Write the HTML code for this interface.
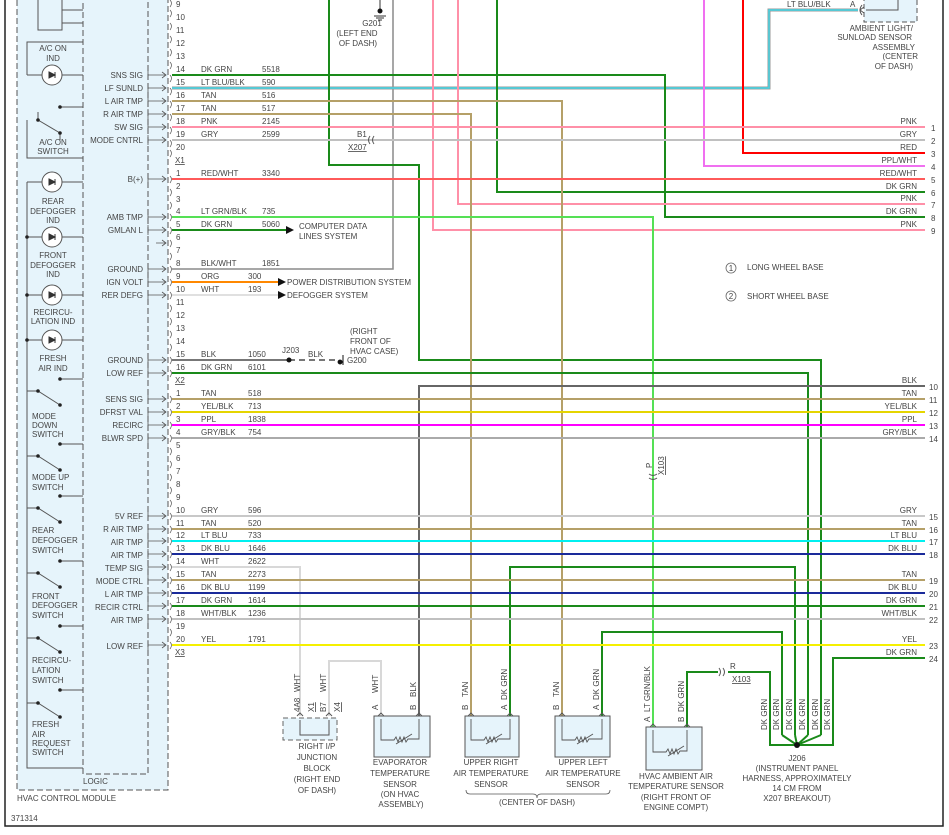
<!DOCTYPE html>
<html><head><meta charset="utf-8"><style>
html,body{margin:0;padding:0;background:#fff;}
svg{display:block;font-family:"Liberation Sans",sans-serif;}
text{font-size:8px;fill:#444;}
.r{text-anchor:end}.m{text-anchor:middle}
</style></head><body>
<svg width="949" height="835" viewBox="0 0 949 835" xmlns="http://www.w3.org/2000/svg">
<rect x="0" y="0" width="949" height="835" fill="#fff"/>
<path d="M5,0 V826 H943 V0" fill="none" stroke="#222" stroke-width="1.5"/>

<rect x="17" y="-5" width="151" height="795" fill="#e6f4fb" stroke="#555" stroke-dasharray="6,3"/>
<rect x="83" y="-5" width="65" height="779" fill="#e6f4fb" stroke="#555" stroke-dasharray="6,3"/>
<text x="83" y="784">LOGIC</text>
<text x="17" y="801">HVAC CONTROL MODULE</text>
<text x="11" y="821">371314</text>

<g stroke="#555" fill="none">
<rect x="38" y="-2" width="24" height="32" fill="#e6f4fb"/>
<path d="M62,10 H83 M62,23 H83"/>
<path d="M27,75 V42 H83 M27,75 H83"/>
<path d="M60,107 H83"/>
<path d="M27,120 V158 H83 M38,120 L60,133 M60,133 V140"/>
<path d="M27,182 V768 H83 M27,182 H83 M27,237 H83 M27,295 H83 M27,340 H83"/>
<path d="M60,379 H83 M60,444 H83 M60,496 H83 M60,561 H83 M60,626 H83 M60,690 H83"/>
<path d="M27,391 H38 L60,405 M27,456 H38 L60,470 M27,508 H38 L60,522 M27,573 H38 L60,587 M27,638 H38 L60,652 M27,703 H38 L60,717"/>
<path d="M38,120 V112"/>
</g>
<g fill="#222">
<circle cx="60" cy="107" r="1.8"/><circle cx="38" cy="120" r="1.8"/><circle cx="60" cy="133" r="1.8"/>
<circle cx="27" cy="237" r="1.8"/><circle cx="27" cy="295" r="1.8"/><circle cx="27" cy="340" r="1.8"/>
<circle cx="60" cy="379" r="1.8"/><circle cx="60" cy="444" r="1.8"/><circle cx="60" cy="496" r="1.8"/><circle cx="60" cy="561" r="1.8"/><circle cx="60" cy="626" r="1.8"/><circle cx="60" cy="690" r="1.8"/>
<circle cx="38" cy="391" r="1.8"/><circle cx="60" cy="405" r="1.8"/><circle cx="38" cy="456" r="1.8"/><circle cx="60" cy="470" r="1.8"/><circle cx="38" cy="508" r="1.8"/><circle cx="60" cy="522" r="1.8"/><circle cx="38" cy="573" r="1.8"/><circle cx="60" cy="587" r="1.8"/><circle cx="38" cy="638" r="1.8"/><circle cx="60" cy="652" r="1.8"/><circle cx="38" cy="703" r="1.8"/><circle cx="60" cy="717" r="1.8"/>
</g>
<g stroke="#555" fill="#fff">
<circle cx="52" cy="75" r="10"/><circle cx="52" cy="182" r="10"/><circle cx="52" cy="237" r="10"/><circle cx="52" cy="295" r="10"/><circle cx="52" cy="340" r="10"/>
</g>
<g fill="#333" stroke="#333">
<path d="M49,72 L55,75 L49,78Z M55,72 V78"/><path d="M49,179 L55,182 L49,185Z M55,179 V185"/><path d="M49,234 L55,237 L49,240Z M55,234 V240"/><path d="M49,292 L55,295 L49,298Z M55,292 V298"/><path d="M49,337 L55,340 L49,343Z M55,337 V343"/>
</g>
<g>
<text x="53" y="51" class="m">A/C ON</text><text x="53" y="61" class="m">IND</text>
<text x="53" y="145" class="m">A/C ON</text><text x="53" y="154" class="m">SWITCH</text>
<text x="53" y="204" class="m">REAR</text><text x="53" y="214" class="m">DEFOGGER</text><text x="53" y="223" class="m">IND</text>
<text x="53" y="258" class="m">FRONT</text><text x="53" y="268" class="m">DEFOGGER</text><text x="53" y="277" class="m">IND</text>
<text x="53" y="315" class="m">RECIRCU-</text><text x="53" y="324" class="m">LATION IND</text>
<text x="53" y="361" class="m">FRESH</text><text x="53" y="371" class="m">AIR IND</text>
</g>
<text x="32" y="419">MODE</text><text x="32" y="428">DOWN</text><text x="32" y="437">SWITCH</text>
<text x="32" y="480">MODE UP</text><text x="32" y="490">SWITCH</text>
<text x="32" y="533">REAR</text><text x="32" y="543">DEFOGGER</text><text x="32" y="553">SWITCH</text>
<text x="32" y="599">FRONT</text><text x="32" y="608">DEFOGGER</text><text x="32" y="618">SWITCH</text>
<text x="32" y="663">RECIRCU-</text><text x="32" y="673">LATION</text><text x="32" y="683">SWITCH</text>
<text x="32" y="727">FRESH</text><text x="32" y="737">AIR</text><text x="32" y="746">REQUEST</text><text x="32" y="755">SWITCH</text>

<g>
<text x="143" y="78" class="r">SNS SIG</text><text x="143" y="91" class="r">LF SUNLD</text><text x="143" y="104" class="r">L AIR TMP</text><text x="143" y="117" class="r">R AIR TMP</text><text x="143" y="130" class="r">SW SIG</text><text x="143" y="143" class="r">MODE CNTRL</text>
<text x="143" y="182" class="r">B(+)</text><text x="143" y="220" class="r">AMB TMP</text><text x="143" y="233" class="r">GMLAN L</text><text x="143" y="272" class="r">GROUND</text><text x="143" y="285" class="r">IGN VOLT</text><text x="143" y="298" class="r">RER DEFG</text><text x="143" y="363" class="r">GROUND</text><text x="143" y="376" class="r">LOW REF</text>
<text x="143" y="402" class="r">SENS SIG</text><text x="143" y="415" class="r">DFRST VAL</text><text x="143" y="428" class="r">RECIRC</text><text x="143" y="441" class="r">BLWR SPD</text>
<text x="143" y="519" class="r">5V REF</text><text x="143" y="532" class="r">R AIR TMP</text><text x="143" y="545" class="r">AIR TMP</text><text x="143" y="558" class="r">AIR TMP</text><text x="143" y="571" class="r">TEMP SIG</text><text x="143" y="584" class="r">MODE CTRL</text><text x="143" y="597" class="r">L AIR TMP</text><text x="143" y="610" class="r">RECIR CTRL</text><text x="143" y="623" class="r">AIR TMP</text><text x="143" y="649" class="r">LOW REF</text>
</g>
<g stroke="#555" fill="none" stroke-width="0.8">
<path d="M148,70V80M148,75H166M162,72L166,75L162,78"/><path d="M148,83V93M148,88H166M162,85L166,88L162,91"/><path d="M148,96V106M148,101H166M162,98L166,101L162,104"/><path d="M148,109V119M148,114H166M162,111L166,114L162,117"/><path d="M148,122V132M148,127H166M162,124L166,127L162,130"/><path d="M148,135V145M148,140H166M162,137L166,140L162,143"/>
<path d="M148,174V184M148,179H166M162,176L166,179L162,182"/><path d="M148,212V222M148,217H166M162,214L166,217L162,220"/><path d="M148,225V235M148,230H166M162,227L166,230L162,233"/><path d="M156,243H166M162,240L166,243L162,246"/><path d="M148,264V274M148,269H166M162,266L166,269L162,272"/><path d="M148,277V287M148,282H166M162,279L166,282L162,285"/><path d="M148,290V300M148,295H166M162,292L166,295L162,298"/><path d="M148,355V365M148,360H166M162,357L166,360L162,363"/><path d="M148,368V378M148,373H166M162,370L166,373L162,376"/>
<path d="M148,394V404M148,399H166M162,396L166,399L162,402"/><path d="M148,407V417M148,412H166M162,409L166,412L162,415"/><path d="M148,420V430M148,425H166M162,422L166,425L162,428"/><path d="M148,433V443M148,438H166M162,435L166,438L162,441"/>
<path d="M148,511V521M148,516H166M162,513L166,516L162,519"/><path d="M148,524V534M148,529H166M162,526L166,529L162,532"/><path d="M148,536V546M148,541H166M162,538L166,541L162,544"/><path d="M148,549V559M148,554H166M162,551L166,554L162,557"/><path d="M148,562V572M148,567H166M162,564L166,567L162,570"/><path d="M148,575V585M148,580H166M162,577L166,580L162,583"/><path d="M148,588V598M148,593H166M162,590L166,593L162,596"/><path d="M148,601V611M148,606H166M162,603L166,606L162,609"/><path d="M148,614V624M148,619H166M162,616L166,619L162,622"/><path d="M148,640V650M148,645H166M162,642L166,645L162,648"/>
</g>

<g>
<text x="176" y="7">9</text><text x="176" y="20">10</text><text x="176" y="33">11</text><text x="176" y="46">12</text><text x="176" y="59">13</text><text x="176" y="72">14</text><text x="176" y="85">15</text><text x="176" y="98">16</text><text x="176" y="111">17</text><text x="176" y="124">18</text><text x="176" y="137">19</text><text x="176" y="150">20</text>
<text x="175" y="163" text-decoration="underline">X1</text>
<text x="176" y="176">1</text><text x="176" y="189">2</text><text x="176" y="202">3</text><text x="176" y="214">4</text><text x="176" y="227">5</text><text x="176" y="240">6</text><text x="176" y="253">7</text><text x="176" y="266">8</text><text x="176" y="279">9</text><text x="176" y="292">10</text><text x="176" y="305">11</text><text x="176" y="318">12</text><text x="176" y="331">13</text><text x="176" y="344">14</text><text x="176" y="357">15</text><text x="176" y="370">16</text>
<text x="175" y="383" text-decoration="underline">X2</text>
<text x="176" y="396">1</text><text x="176" y="409">2</text><text x="176" y="422">3</text><text x="176" y="435">4</text><text x="176" y="448">5</text><text x="176" y="461">6</text><text x="176" y="474">7</text><text x="176" y="487">8</text><text x="176" y="500">9</text><text x="176" y="513">10</text><text x="176" y="526">11</text><text x="176" y="538">12</text><text x="176" y="551">13</text><text x="176" y="564">14</text><text x="176" y="577">15</text><text x="176" y="590">16</text><text x="176" y="603">17</text><text x="176" y="616">18</text><text x="176" y="629">19</text><text x="176" y="642">20</text>
<text x="175" y="655" text-decoration="underline">X3</text>
</g>
<path fill="none" stroke="#555" stroke-width="0.7" d="
M170,0q3,3 0,7M170,10q3,3 0,7M170,23q3,3 0,7M170,36q3,3 0,7M170,49q3,3 0,7M170,62q3,3 0,7M170,75q3,3 0,7M170,88q3,3 0,7M170,101q3,3 0,7M170,114q3,3 0,7M170,127q3,3 0,7M170,140q3,3 0,7M170,150q3,3 0,7
M170,176q3,3 0,7M170,189q3,3 0,7M170,202q3,3 0,7M170,214q3,3 0,7M170,227q3,3 0,7M170,240q3,3 0,7M170,253q3,3 0,7M170,266q3,3 0,7M170,279q3,3 0,7M170,292q3,3 0,7M170,305q3,3 0,7M170,318q3,3 0,7M170,331q3,3 0,7M170,344q3,3 0,7M170,357q3,3 0,7M170,370q3,3 0,7
M170,396q3,3 0,7M170,409q3,3 0,7M170,422q3,3 0,7M170,435q3,3 0,7M170,448q3,3 0,7M170,461q3,3 0,7M170,474q3,3 0,7M170,487q3,3 0,7M170,500q3,3 0,7M170,513q3,3 0,7M170,526q3,3 0,7M170,538q3,3 0,7M170,551q3,3 0,7M170,564q3,3 0,7M170,577q3,3 0,7M170,590q3,3 0,7M170,603q3,3 0,7M170,616q3,3 0,7M170,629q3,3 0,7M170,642q3,3 0,7"/>

<g fill="none" stroke-width="2">
<path d="M393,0V269H172" stroke="#8a8a8a" stroke-width="1.5"/>
<path d="M172,88H769V10H858" stroke="#999" stroke-width="3"/>
<path d="M172,88H769V10H858" stroke="#40d8e8" stroke-width="1.4"/>
<path d="M172,75H665V217H925" stroke="#1a8a1a"/>
<path d="M329,0V165H419V360H821V735" stroke="#1a8a1a"/>
<path d="M433,0V230H925" stroke="#ff90a8"/>
<path d="M458,0V204H925" stroke="#ff90a8"/>
<path d="M497,0V192H925" stroke="#1a8a1a"/>
<path d="M704,0V166H925" stroke="#f070f0"/>
<path d="M743,0V153H925" stroke="#ff0000"/>
<path d="M172,101H562V716" stroke="#b5a068"/>
<path d="M172,114H471V716" stroke="#b5a068"/>
<path d="M172,127H925" stroke="#ff90a8"/>
<path d="M172,140H925" stroke="#c0c0c0"/>
<path d="M172,179H925" stroke="#ff5a5a"/>
<path d="M172,217H653V727" stroke="#55e055"/>
<path d="M172,230H286" stroke="#1a8a1a"/>
<path d="M172,282H280" stroke="#ff8800"/>
<path d="M172,295H280" stroke="#e0e0e0"/>
<path d="M172,360H289" stroke="#777"/>
<path d="M289,360H338" stroke="#777" stroke-dasharray="6,4"/>
<path d="M172,373H808V735" stroke="#1a8a1a"/>
<path d="M419,716V386H925" stroke="#666"/>
<path d="M172,399H925" stroke="#b5a068"/>
<path d="M172,412H925" stroke="#e5d500"/>
<path d="M172,425H925" stroke="#ff00ff"/>
<path d="M172,438H925" stroke="#aaa"/>
<path d="M172,516H925" stroke="#c8c8c8"/>
<path d="M172,529H925" stroke="#b5a068"/>
<path d="M172,541H925" stroke="#00f0f0"/>
<path d="M172,554H925" stroke="#1a2a9a"/>
<path d="M172,567H300V716" stroke="#d8d8d8"/>
<path d="M510,716V567H795V735" stroke="#1a8a1a"/>
<path d="M172,580H925" stroke="#b5a068"/>
<path d="M172,593H925" stroke="#1a2a9a"/>
<path d="M172,606H925" stroke="#1a8a1a"/>
<path d="M172,619H925" stroke="#c0c0c0"/>
<path d="M602,716V632H782V735" stroke="#1a8a1a"/>
<path d="M172,645H925" stroke="#f5f000"/>
<path d="M925,658H833V745H797" stroke="#1a8a1a"/>
<path d="M687,727V672H718M728,672H770V745H797" stroke="#1a8a1a"/>
<path d="M782,735L797,745M795,735L797,745M808,735L797,745M821,735L797,745" stroke="#1a8a1a"/>
<path d="M329,716V661H381V716" stroke="#d8d8d8"/>
</g>
<circle cx="797" cy="745" r="3" fill="#111"/>
<circle cx="289" cy="360" r="2.5" fill="#111"/>
<g fill="#111"><path d="M286,226L294,230L286,234Z"/><path d="M278,278L286,282L278,286Z"/><path d="M278,291L286,295L278,299Z"/></g>
<path d="M340,360a2,2 0 1,0 0.1,0M343,355V365" stroke="#111" fill="#111"/>
<text x="347" y="363">G200</text>
<text x="350" y="334">(RIGHT</text><text x="350" y="344">FRONT OF</text><text x="350" y="354">HVAC CASE)</text>
<text x="282" y="353">J203</text><text x="308" y="357">BLK</text>
<path d="M380,0V10M374,16H386M376,18H384M378,20H382" stroke="#333" fill="none"/><circle cx="380" cy="11" r="2.5" fill="#111"/>
<text x="372" y="26" class="m">G201</text><text x="357" y="36" class="m">(LEFT END</text><text x="358" y="46" class="m">OF DASH)</text>
<text x="357" y="137">B1</text><path d="M370,136q-3,4 0,8M374,136q-3,4 0,8" stroke="#555" fill="none"/>
<text x="348" y="150" text-decoration="underline">X207</text>
<text x="299" y="229">COMPUTER DATA</text><text x="299" y="239">LINES SYSTEM</text>
<text x="287" y="285">POWER DISTRIBUTION SYSTEM</text>
<text x="287" y="298">DEFOGGER SYSTEM</text>

<g>
<text x="201" y="72">DK GRN</text><text x="262" y="72">5518</text>
<text x="201" y="85">LT BLU/BLK</text><text x="262" y="85">590</text>
<text x="201" y="98">TAN</text><text x="262" y="98">516</text>
<text x="201" y="111">TAN</text><text x="262" y="111">517</text>
<text x="201" y="124">PNK</text><text x="262" y="124">2145</text>
<text x="201" y="137">GRY</text><text x="262" y="137">2599</text>
<text x="201" y="176">RED/WHT</text><text x="262" y="176">3340</text>
<text x="201" y="214">LT GRN/BLK</text><text x="262" y="214">735</text>
<text x="201" y="227">DK GRN</text><text x="262" y="227">5060</text>
<text x="201" y="266">BLK/WHT</text><text x="262" y="266">1851</text>
<text x="201" y="279">ORG</text><text x="248" y="279">300</text>
<text x="201" y="292">WHT</text><text x="248" y="292">193</text>
<text x="201" y="357">BLK</text><text x="248" y="357">1050</text>
<text x="201" y="370">DK GRN</text><text x="248" y="370">6101</text>
<text x="201" y="396">TAN</text><text x="248" y="396">518</text>
<text x="201" y="409">YEL/BLK</text><text x="248" y="409">713</text>
<text x="201" y="422">PPL</text><text x="248" y="422">1838</text>
<text x="201" y="435">GRY/BLK</text><text x="248" y="435">754</text>
<text x="201" y="513">GRY</text><text x="248" y="513">596</text>
<text x="201" y="526">TAN</text><text x="248" y="526">520</text>
<text x="201" y="538">LT BLU</text><text x="248" y="538">733</text>
<text x="201" y="551">DK BLU</text><text x="248" y="551">1646</text>
<text x="201" y="564">WHT</text><text x="248" y="564">2622</text>
<text x="201" y="577">TAN</text><text x="248" y="577">2273</text>
<text x="201" y="590">DK BLU</text><text x="248" y="590">1199</text>
<text x="201" y="603">DK GRN</text><text x="248" y="603">1614</text>
<text x="201" y="616">WHT/BLK</text><text x="248" y="616">1236</text>
<text x="201" y="642">YEL</text><text x="248" y="642">1791</text>
</g>
<g>
<text x="917" y="124" class="r">PNK</text><text x="931" y="131">1</text>
<text x="917" y="137" class="r">GRY</text><text x="931" y="144">2</text>
<text x="917" y="150" class="r">RED</text><text x="931" y="157">3</text>
<text x="917" y="163" class="r">PPL/WHT</text><text x="931" y="170">4</text>
<text x="917" y="176" class="r">RED/WHT</text><text x="931" y="183">5</text>
<text x="917" y="189" class="r">DK GRN</text><text x="931" y="196">6</text>
<text x="917" y="201" class="r">PNK</text><text x="931" y="208">7</text>
<text x="917" y="214" class="r">DK GRN</text><text x="931" y="221">8</text>
<text x="917" y="227" class="r">PNK</text><text x="931" y="234">9</text>
<text x="917" y="383" class="r">BLK</text><text x="929" y="390">10</text>
<text x="917" y="396" class="r">TAN</text><text x="929" y="403">11</text>
<text x="917" y="409" class="r">YEL/BLK</text><text x="929" y="416">12</text>
<text x="917" y="422" class="r">PPL</text><text x="929" y="429">13</text>
<text x="917" y="435" class="r">GRY/BLK</text><text x="929" y="442">14</text>
<text x="917" y="513" class="r">GRY</text><text x="929" y="520">15</text>
<text x="917" y="526" class="r">TAN</text><text x="929" y="533">16</text>
<text x="917" y="538" class="r">LT BLU</text><text x="929" y="545">17</text>
<text x="917" y="551" class="r">DK BLU</text><text x="929" y="558">18</text>
<text x="917" y="577" class="r">TAN</text><text x="929" y="584">19</text>
<text x="917" y="590" class="r">DK BLU</text><text x="929" y="597">20</text>
<text x="917" y="603" class="r">DK GRN</text><text x="929" y="610">21</text>
<text x="917" y="616" class="r">WHT/BLK</text><text x="929" y="623">22</text>
<text x="917" y="642" class="r">YEL</text><text x="929" y="649">23</text>
<text x="917" y="655" class="r">DK GRN</text><text x="929" y="662">24</text>
</g>

<rect x="864" y="-3" width="53" height="25" fill="#e6f4fb" stroke="#555" stroke-dasharray="5,3"/>
<path d="M866,10H898V0" stroke="#555" fill="none"/>
<path d="M862,5q-4,5 0,10M864,7L860,10L864,13" stroke="#555" fill="none"/>
<text x="787" y="7">LT BLU/BLK</text><text x="850" y="7">A</text>
<text x="913" y="31" class="r">AMBIENT LIGHT/</text><text x="912" y="40" class="r">SUNLOAD SENSOR</text><text x="915" y="50" class="r">ASSEMBLY</text><text x="918" y="59" class="r">(CENTER</text><text x="913" y="69" class="r">OF DASH)</text>

<circle cx="731" cy="268" r="5" fill="none" stroke="#666" stroke-width="0.8"/><text x="731" y="271" class="m" font-size="7">1</text>
<text x="747" y="270">LONG WHEEL BASE</text>
<circle cx="731" cy="296" r="5" fill="none" stroke="#666" stroke-width="0.8"/><text x="731" y="299" class="m" font-size="7">2</text>
<text x="747" y="299">SHORT WHEEL BASE</text>

<path d="M649,474q4,3 8,0M649,478q4,3 8,0" stroke="#555" fill="none"/>
<text x="652" y="468" transform="rotate(-90 652 468)">P</text>
<text x="664" y="475" transform="rotate(-90 664 475)" text-decoration="underline">X103</text>
<path d="M719,668q3,4 0,8M723,668q3,4 0,8" stroke="#555" fill="none"/>
<text x="730" y="669">R</text><text x="732" y="682" text-decoration="underline">X103</text>

<rect x="283" y="718" width="54" height="22" fill="#e6f4fb" stroke="#666" stroke-dasharray="5,3"/>
<path d="M300,720V735H329V720" stroke="#555" fill="none"/>
<g stroke="#555" fill="none"><path d="M297,716l3,-3l3,3M326,716l3,-3l3,3"/></g>
<text x="300" y="692" transform="rotate(-90 300 692)">WHT</text>
<text x="300" y="712" transform="rotate(-90 300 712)">4A8</text>
<text x="314" y="712" transform="rotate(-90 314 712)" text-decoration="underline">X1</text>
<text x="326" y="692" transform="rotate(-90 326 692)">WHT</text>
<text x="326" y="712" transform="rotate(-90 326 712)">B7</text>
<text x="340" y="712" transform="rotate(-90 340 712)" text-decoration="underline">X4</text>
<text x="317" y="749" class="m">RIGHT I/P</text><text x="317" y="760" class="m">JUNCTION</text><text x="317" y="771" class="m">BLOCK</text><text x="317" y="782" class="m">(RIGHT END</text><text x="317" y="793" class="m">OF DASH)</text>

<g stroke="#555" fill="#e6f4fb">
<rect x="374" y="716" width="56" height="41"/>
<rect x="465" y="716" width="54" height="41"/>
<rect x="555" y="716" width="55" height="41"/>
<rect x="646" y="727" width="56" height="43"/>
</g>
<g stroke="#555" fill="none" stroke-width="0.9">
<path d="M381,719V740H394l2,-3l2,5l2,-5l2,5l2,-5l2,5l2,-3H419V719M396,744l16,-10"/>
<path d="M471,719V740H484l2,-3l2,5l2,-5l2,5l2,-5l2,5l2,-3H510V719M486,744l16,-10"/>
<path d="M562,719V740H575l2,-3l2,5l2,-5l2,5l2,-5l2,5l2,-3H602V719M577,744l16,-10"/>
<path d="M653,730V752H666l2,-3l2,5l2,-5l2,5l2,-5l2,5l2,-3H687V730M668,756l16,-10"/>
<path d="M378,716l3,-3l3,3M416,716l3,-3l3,3M468,716l3,-3l3,3M507,716l3,-3l3,3M559,716l3,-3l3,3M599,716l3,-3l3,3M650,727l3,-3l3,3M684,727l3,-3l3,3"/>
</g>
<g>
<text x="378" y="710" transform="rotate(-90 378 710)">A</text><text x="378" y="693" transform="rotate(-90 378 693)">WHT</text>
<text x="416" y="710" transform="rotate(-90 416 710)">B</text><text x="416" y="697" transform="rotate(-90 416 697)">BLK</text>
<text x="468" y="710" transform="rotate(-90 468 710)">B</text><text x="468" y="697" transform="rotate(-90 468 697)">TAN</text>
<text x="507" y="710" transform="rotate(-90 507 710)">A</text><text x="507" y="700" transform="rotate(-90 507 700)">DK GRN</text>
<text x="559" y="710" transform="rotate(-90 559 710)">B</text><text x="559" y="697" transform="rotate(-90 559 697)">TAN</text>
<text x="599" y="710" transform="rotate(-90 599 710)">A</text><text x="599" y="700" transform="rotate(-90 599 700)">DK GRN</text>
<text x="650" y="722" transform="rotate(-90 650 722)">A</text><text x="650" y="712" transform="rotate(-90 650 712)">LT GRN/BLK</text>
<text x="684" y="722" transform="rotate(-90 684 722)">B</text><text x="684" y="712" transform="rotate(-90 684 712)">DK GRN</text>
<text x="767" y="730" transform="rotate(-90 767 730)">DK GRN</text>
<text x="779" y="730" transform="rotate(-90 779 730)">DK GRN</text>
<text x="792" y="730" transform="rotate(-90 792 730)">DK GRN</text>
<text x="805" y="730" transform="rotate(-90 805 730)">DK GRN</text>
<text x="818" y="730" transform="rotate(-90 818 730)">DK GRN</text>
<text x="830" y="730" transform="rotate(-90 830 730)">DK GRN</text>
</g>
<g>
<text x="400" y="765" class="m">EVAPORATOR</text><text x="400" y="776" class="m">TEMPERATURE</text><text x="400" y="787" class="m">SENSOR</text><text x="400" y="797" class="m">(ON HVAC</text><text x="401" y="807" class="m">ASSEMBLY)</text>
<text x="491" y="765" class="m">UPPER RIGHT</text><text x="491" y="776" class="m">AIR TEMPERATURE</text><text x="491" y="787" class="m">SENSOR</text>
<text x="583" y="765" class="m">UPPER LEFT</text><text x="583" y="776" class="m">AIR TEMPERATURE</text><text x="583" y="787" class="m">SENSOR</text>
<text x="537" y="805" class="m">(CENTER OF DASH)</text>
<text x="676" y="779" class="m">HVAC AMBIENT AIR</text><text x="676" y="789" class="m">TEMPERATURE SENSOR</text><text x="676" y="800" class="m">(RIGHT FRONT OF</text><text x="676" y="810" class="m">ENGINE COMPT)</text>
<text x="797" y="761" class="m">J206</text><text x="797" y="771" class="m">(INSTRUMENT PANEL</text><text x="797" y="781" class="m">HARNESS, APPROXIMATELY</text><text x="797" y="791" class="m">14 CM FROM</text><text x="797" y="801" class="m">X207 BREAKOUT)</text>
</g>
<path d="M466,790q0,4 4,4H533q4,0 4,4q0,-4 4,-4H606q4,0 4,-4" stroke="#555" fill="none" stroke-width="0.8"/>
</svg>
</body></html>
